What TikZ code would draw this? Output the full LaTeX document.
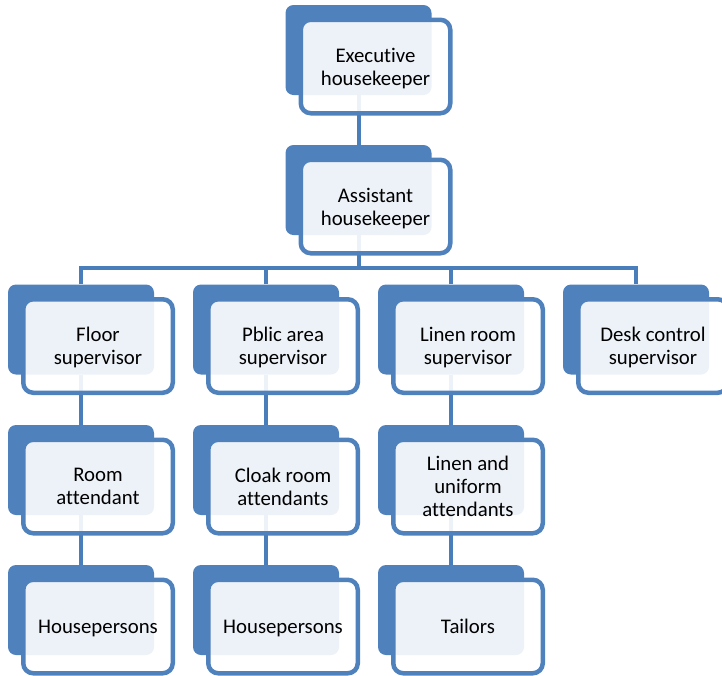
\documentclass[tikz,border=0pt]{standalone}
\usepackage{fontspec}
\setmainfont[Ligatures=NoCommon]{Carlito}
\usetikzlibrary{calc}
\definecolor{boxblue}{HTML}{4F81BD}
\definecolor{lineblue}{HTML}{4A7EBB}

\begin{document}
\begin{tikzpicture}[x=1pt, y=-1pt,
	back/.style={fill=boxblue, rounded corners=8pt, minimum width=146pt, minimum height=90pt, inner sep=0pt},
	front/.style={draw=boxblue, line width=4.5pt, fill=white, fill opacity=0.9, text opacity=1, rounded corners=10pt, minimum width=149.5pt, minimum height=93.5pt, inner sep=0pt, text depth=0pt, align=center, font=\fontsize{20.8}{23}\selectfont},
	link/.style={draw=lineblue, line width=4pt}]
				\useasboundingbox (0,0) rectangle (722,675);
					
					\coordinate (1) at (358.5,50);
					\coordinate (2) at (358.5,190);
					\coordinate (3) at (81,329.5);
					\coordinate (4) at (266,329.5);
					\coordinate (5) at (451,329.5);
					\coordinate (6) at (636,329.5);
					\coordinate (7) at (81,470);
					\coordinate (8) at (266,470);
					\coordinate (9) at (451,470);
					\coordinate (10) at (81,610);
					\coordinate (11) at (266,610);
					\coordinate (12) at (451,610);
					\coordinate (bus) at (358.5,268);
					
					
					
					\node[back] (b1) at (1) {};
					\node[back] (b2) at (2) {};
					\node[back] (b3) at (3) {};
					\node[back] (b4) at (4) {};
					\node[back] (b5) at (5) {};
					\node[back] (b6) at (6) {};
					\node[back] (b7) at (7) {};
					\node[back] (b8) at (8) {};
					\node[back] (b9) at (9) {};
					\node[back] (b10) at (10) {};
					\node[back] (b11) at (11) {};
					\node[back] (b12) at (12) {};
					
					
					
					\draw[link] (b1.south)--(b2.north);
					
					\draw[link] (b2.south)--(bus);
					
					\draw[link] (b3.north) |- (bus) -| (b6.north);
					
					\draw[link] (b4.north)--(b4.north |- bus);
					
					\draw[link] (b5.north)--(b5.north |- bus);
					
					\draw[link] (b3.south)--(b7.north);
					
					\draw[link] (b7.south)--(b10.north);
					
					\draw[link] (b4.south)--(b8.north);
					
					\draw[link] (b8.south)--(b11.north);
					
					\draw[link] (b5.south)--(b9.north);
					
					\draw[link] (b9.south)--(b12.north);
					
					
					
					\node[front, shift={(17,16.5)}] (f1) at (1) {Executive\\housekeeper};
					\node[front, shift={(17,16.5)}] (f2) at (2) {Assistant\\housekeeper};
					\node[front, shift={(17,16.5)}] (f3) at (3) {Floor\\supervisor};
					\node[front, shift={(17,16.5)}] (f4) at (4) {Pblic area\\supervisor};
					\node[front, shift={(17,16.5)}] (f5) at (5) {Linen room\\supervisor};
					\node[front, shift={(17,16.5)}] (f6) at (6) {Desk control\\supervisor};
					\node[front, shift={(17,16.5)}] (f7) at (7) {Room\\attendant};
					\node[front, shift={(17,16.5)}] (f8) at (8) {Cloak room\\attendants};
					\node[front, shift={(17,16.5)}] (f9) at (9) {Linen and\\uniform\\attendants};
					\node[front, shift={(17,16.5)}] (f10) at (10) {Housepersons};
					\node[front, shift={(17,16.5)}] (f11) at (11) {Housepersons};
					\node[front, shift={(17,16.5)}] (f12) at (12) {Tailors};
					
\end{tikzpicture}
\end{document}
